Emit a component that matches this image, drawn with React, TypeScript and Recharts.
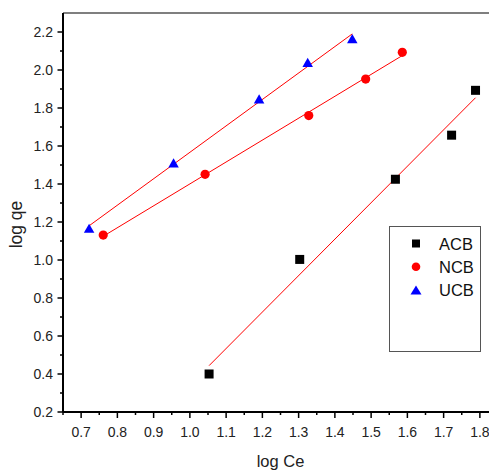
import { ScatterChart, Scatter, XAxis, YAxis, ReferenceLine, Legend, Label } from "recharts"

// measured points (log Ce, log qe)
const acbData = [
  { x: 1.053, y: 0.40 },
  { x: 1.303, y: 1.003 },
  { x: 1.567, y: 1.425 },
  { x: 1.722, y: 1.657 },
  { x: 1.788, y: 1.893 },
]
const ncbData = [
  { x: 0.761, y: 1.131 },
  { x: 1.042, y: 1.451 },
  { x: 1.328, y: 1.760 },
  { x: 1.485, y: 1.952 },
  { x: 1.586, y: 2.093 },
]
const ucbData = [
  { x: 0.722, y: 1.167 },
  { x: 0.955, y: 1.511 },
  { x: 1.191, y: 1.848 },
  { x: 1.325, y: 2.040 },
  { x: 1.448, y: 2.165 },
]

// linear fit segments (start, end)
const acbFit = [{ x: 1.053, y: 0.444 }, { x: 1.788, y: 1.854 }]
const ncbFit = [{ x: 0.761, y: 1.125 }, { x: 1.586, y: 2.076 }]
const ucbFit = [{ x: 0.722, y: 1.180 }, { x: 1.448, y: 2.190 }]

const xMajor = [0.7, 0.8, 0.9, 1.0, 1.1, 1.2, 1.3, 1.4, 1.5, 1.6, 1.7, 1.8]
const xMinor = [0.65, 0.75, 0.85, 0.95, 1.05, 1.15, 1.25, 1.35, 1.45, 1.55, 1.65, 1.75]
const yMajor = [0.2, 0.4, 0.6, 0.8, 1.0, 1.2, 1.4, 1.6, 1.8, 2.0, 2.2]
const yMinor = [0.3, 0.5, 0.7, 0.9, 1.1, 1.3, 1.5, 1.7, 1.9, 2.1]

const X_DOMAIN = [0.65, 1.85]
const Y_DOMAIN = [0.2, 2.3]

const FONT = "'Liberation Sans', Arial, sans-serif"

const isMajor = (list: number[], v: number) => list.some((m) => Math.abs(m - v) < 1e-6)

function XTick({ x, y, payload }: any) {
  const major = isMajor(xMajor, payload.value)
  return (
    <g>
      <line x1={x} y1={y} x2={x} y2={y + (major ? 6 : 3)} stroke="#000" strokeWidth={1.5} />
      {major && (
        <text x={x} y={y + 25} textAnchor="middle" fontSize={14} fontFamily={FONT} fill="#222">
          {payload.value.toFixed(1)}
        </text>
      )}
    </g>
  )
}

function YTick({ x, y, payload }: any) {
  const major = isMajor(yMajor, payload.value)
  return (
    <g>
      <line x1={x} y1={y} x2={x - (major ? 5.5 : 3)} y2={y} stroke="#000" strokeWidth={1.5} />
      {major && (
        <text x={x - 10} y={y + 5} textAnchor="end" fontSize={14} fontFamily={FONT} fill="#222">
          {payload.value.toFixed(1)}
        </text>
      )}
    </g>
  )
}

const Square = ({ cx, cy, s = 9 }: any) => <rect x={cx - s / 2} y={cy - s / 2} width={s} height={s} fill="#000" />
const Dot = ({ cx, cy, r = 4.6 }: any) => <circle cx={cx} cy={cy} r={r} fill="#ff0000" />
const Tri = ({ cx, cy, w = 10.5, h = 9.2 }: any) => (
  <polygon points={`${cx},${cy - h / 2} ${cx + w / 2},${cy + h / 2} ${cx - w / 2},${cy + h / 2}`} fill="#0000ff" />
)

const legendMarks: Record<string, (cx: number, cy: number) => JSX.Element> = {
  ACB: (cx, cy) => <Square cx={cx} cy={cy} s={8} />,
  NCB: (cx, cy) => <Dot cx={cx} cy={cy} r={4.3} />,
  UCB: (cx, cy) => <Tri cx={cx} cy={cy} w={11} h={9} />,
}

function LegendBox({ payload }: any) {
  const items = (payload || []).filter((p: any) => legendMarks[p.value])
  return (
    <div style={{ width: 92, height: 126, border: "1.5px solid #555", boxSizing: "border-box", background: "#fff" }}>
      <svg width={89} height={123}>
        {items.map((p: any, i: number) => {
          const cy = 16.5 + i * 23.3
          return (
            <g key={p.value}>
              {legendMarks[p.value](26, cy)}
              <text x={49} y={cy + 6} fontSize={16.5} fontFamily={FONT} fill="#111">
                {p.value}
              </text>
            </g>
          )
        })}
      </svg>
    </div>
  )
}

export default function App() {
  return (
    <div style={{ position: "fixed", left: 0, top: 0, width: 489, height: 470, overflow: "hidden", background: "#fff" }}>
      <ScatterChart width={510} height={470} margin={{ top: 13, right: 12, bottom: 0, left: 0 }}>
        <XAxis
          type="number"
          dataKey="x"
          domain={X_DOMAIN}
          allowDataOverflow
          ticks={[...xMinor, ...xMajor].sort((a, b) => a - b)}
          interval={0}
          tick={<XTick />}
          tickLine={false}
          tickSize={0}
          tickMargin={0}
          height={58}
          axisLine={{ stroke: "#000", strokeWidth: 2 }}
        >
          <Label
            content={({ viewBox }: any) => (
              <text x={viewBox.x + viewBox.width / 2} y={viewBox.y + 54.5} textAnchor="middle" fontSize={16.5} fontFamily={FONT} fill="#222">
                log Ce
              </text>
            )}
          />
        </XAxis>
        <YAxis
          type="number"
          dataKey="y"
          domain={Y_DOMAIN}
          allowDataOverflow
          ticks={[...yMinor, ...yMajor].sort((a, b) => a - b)}
          interval={0}
          tick={<YTick />}
          tickLine={false}
          tickSize={0}
          tickMargin={0}
          width={63}
          axisLine={{ stroke: "#000", strokeWidth: 2 }}
        >
          <Label
            content={({ viewBox }: any) => {
              const cx = viewBox.x + 22
              const cy = viewBox.y + viewBox.height / 2 + 12
              return (
                <text x={cx} y={cy} transform={`rotate(-90 ${cx} ${cy})`} textAnchor="middle" fontSize={17.5} fontFamily={FONT} fill="#222">
                  log qe
                </text>
              )
            }}
          />
        </YAxis>
        {/* top frame edge */}
        <ReferenceLine y={2.3} stroke="#555" strokeWidth={1.5} />
        <ReferenceLine segment={acbFit} stroke="#ff0000" strokeWidth={1} />
        <ReferenceLine segment={ncbFit} stroke="#ff0000" strokeWidth={1} />
        <ReferenceLine segment={ucbFit} stroke="#ff0000" strokeWidth={1} />
        <Scatter name="ACB" data={acbData} fill="#000" isAnimationActive={false} shape={(p: any) => <Square cx={p.cx} cy={p.cy} />} />
        <Scatter name="NCB" data={ncbData} fill="#ff0000" isAnimationActive={false} shape={(p: any) => <Dot cx={p.cx} cy={p.cy} />} />
        <Scatter name="UCB" data={ucbData} fill="#0000ff" isAnimationActive={false} shape={(p: any) => <Tri cx={p.cx} cy={p.cy} />} />
        <Legend
          layout="horizontal"
          verticalAlign="middle"
          align="center"
          content={<LegendBox />}
          wrapperStyle={{ left: 389, top: 226, width: 92, height: 126 }}
        />
      </ScatterChart>
    </div>
  )
}
